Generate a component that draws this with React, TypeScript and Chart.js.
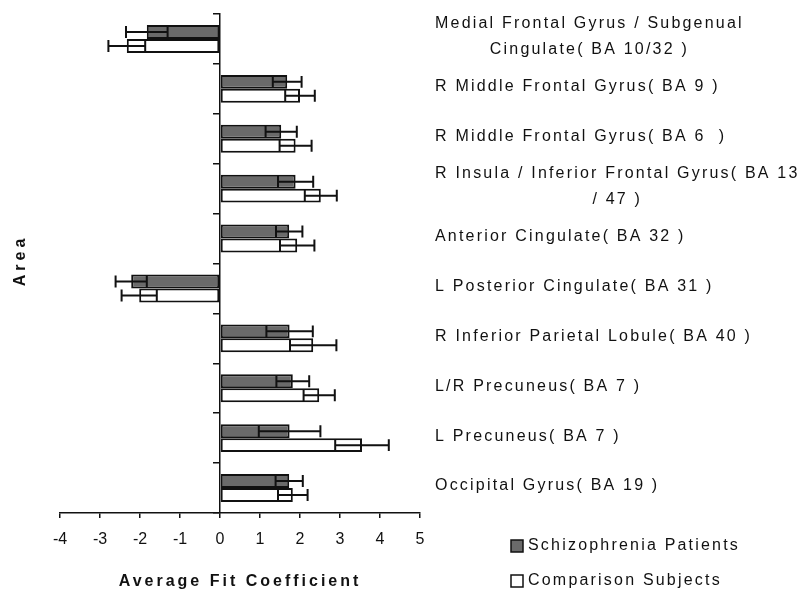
import React, { useEffect, useRef } from "react";
import { Chart, registerables } from "chart.js";

Chart.register(...registerables);

// ---------- data ----------
const areas: string[][] = [
  ["Medial Frontal Gyrus / Subgenual", "Cingulate( BA 10/32 )"],
  ["R Middle Frontal Gyrus( BA 9 )"],
  ["R Middle Frontal Gyrus( BA 6  )"],
  ["R Insula / Inferior Frontal Gyrus( BA 13", "/ 47 )"],
  ["Anterior Cingulate( BA 32 )"],
  ["L Posterior Cingulate( BA 31 )"],
  ["R Inferior Parietal Lobule( BA 40 )"],
  ["L/R Precuneus( BA 7 )"],
  ["L Precuneus( BA 7 )"],
  ["Occipital Gyrus( BA 19 )"],
];
const schizMeans = [-1.83, 1.68, 1.53, 1.89, 1.73, -2.22, 1.74, 1.82, 1.74, 1.73];
const schizErrors = [0.52, 0.36, 0.39, 0.44, 0.33, 0.39, 0.58, 0.41, 0.77, 0.34];
const compMeans = [-2.33, 2.0, 1.89, 2.52, 1.93, -2.02, 2.33, 2.48, 3.55, 1.82];
const compErrors = [0.46, 0.37, 0.4, 0.4, 0.43, 0.44, 0.58, 0.39, 0.67, 0.37];
const seriesNames = ["Schizophrenia Patients", "Comparison Subjects"];
const xMin = -4;
const xMax = 5;
const xTitle = "Average Fit Coefficient";
const yTitle = "Area";

const FONT = '"Liberation Sans", Arial, Helvetica, sans-serif';
const INK = "#111111";
const DARK = "#6a6a6a";

const errorBarPlugin = {
  id: "errorBars",
  afterDatasetsDraw(chart: any) {
    const ctx = chart.ctx;
    const xs = chart.scales.x;
    chart.data.datasets.forEach((ds: any, di: number) => {
      const meta = chart.getDatasetMeta(di);
      meta.data.forEach((bar: any, i: number) => {
        const v = ds.data[i];
        const e = ds.errors[i];
        const x1 = xs.getPixelForValue(v - e);
        const x2 = xs.getPixelForValue(v + e);
        const y = bar.y;
        const cap = bar.height / 2 - 1;
        ctx.save();
        ctx.strokeStyle = INK;
        ctx.lineWidth = 2;
        ctx.beginPath();
        ctx.moveTo(x1, y);
        ctx.lineTo(x2, y);
        ctx.moveTo(x1, y - cap);
        ctx.lineTo(x1, y + cap);
        ctx.moveTo(x2, y - cap);
        ctx.lineTo(x2, y + cap);
        ctx.stroke();
        ctx.restore();
      });
    });
  },
};

const textPlugin = {
  id: "textDecor",
  afterDraw(chart: any) {
    const ctx = chart.ctx;
    const ys = chart.scales.y;
    const xs = chart.scales.x;
    const area = chart.chartArea;
    ctx.save();
    ctx.fillStyle = INK;
    // category labels on the right
    ctx.font = `16px ${FONT}`;
    (ctx as any).letterSpacing = "2.2px";
    ctx.textBaseline = "middle";
    const labelX = area.right + 15;
    const lineH = 26;
    areas.forEach((lines, i) => {
      const cy = ys.getPixelForValue(i) - 2;
      const y0 = cy - ((lines.length - 1) * lineH) / 2;
      if (lines.length === 1) {
        ctx.textAlign = "left";
        ctx.fillText(lines[0], labelX, y0);
      } else {
        const w0 = ctx.measureText(lines[0]).width;
        ctx.textAlign = "center";
        lines.forEach((ln, k) => {
          ctx.fillText(ln, labelX + w0 / 2, y0 + k * lineH);
        });
      }
    });

    // legend
    chart.data.datasets.forEach((ds: any, di: number) => {
      const ly = area.bottom + 33 + di * 35;
      const bx = area.right + 91;
      ctx.fillStyle = ds.backgroundColor;
      ctx.fillRect(bx, ly - 6, 12, 12);
      ctx.strokeStyle = INK;
      ctx.lineWidth = 1.5;
      ctx.strokeRect(bx, ly - 6, 12, 12);
      ctx.fillStyle = INK;
      ctx.textAlign = "left";
      ctx.fillText(ds.label, bx + 17, ly);
    });

    // axis titles
    ctx.font = `bold 16px ${FONT}`;
    (ctx as any).letterSpacing = "3px";
    ctx.textAlign = "center";
    ctx.fillText(xTitle, (xs.left + xs.right) / 2, area.bottom + 69);
    ctx.translate(21, (area.top + area.bottom) / 2 - 3);
    ctx.rotate(-Math.PI / 2);
    (ctx as any).letterSpacing = "4px";
    ctx.fillText(yTitle, 0, 0);
    ctx.restore();
  },
};

export default function App() {
  const ref = useRef<HTMLCanvasElement>(null);
  useEffect(() => {
    if (!ref.current) return;
    Chart.defaults.font.family = FONT;
    Chart.defaults.color = INK;
    const chart = new Chart(ref.current, {
      type: "bar",
      data: {
        labels: areas.map((a) => a.join(" ")),
        datasets: [
          {
            label: seriesNames[0],
            data: schizMeans,
            errors: schizErrors,
            backgroundColor: DARK,
            borderColor: INK,
            borderWidth: 2,
            borderSkipped: false,
          } as any,
          {
            label: seriesNames[1],
            data: compMeans,
            errors: compErrors,
            backgroundColor: "#ffffff",
            borderColor: INK,
            borderWidth: 2,
            borderSkipped: false,
          } as any,
        ],
      },
      options: {
        indexAxis: "y",
        responsive: false,
        animation: false,
        devicePixelRatio: 1,
        layout: { padding: { left: 60, right: 387, top: 14, bottom: 32 } },
        plugins: { legend: { display: false }, tooltip: { enabled: false } },
        datasets: { bar: { categoryPercentage: 0.56, barPercentage: 1 } },
        scales: {
          x: {
            type: "linear",
            min: xMin,
            max: xMax,
            ticks: { stepSize: 1, color: INK, font: { size: 16 }, padding: 12 },
            grid: { drawOnChartArea: false, drawTicks: true, tickLength: 5, color: INK, lineWidth: 1.5 },
            border: { color: INK, width: 1.5 },
            afterFit: (s: any) => {
              s.height = 50;
            },
          },
          y: {
            type: "category",
            position: { x: 0 } as any,
            ticks: { display: false },
            grid: { offset: true, drawOnChartArea: false, drawTicks: true, tickLength: 6, color: INK, lineWidth: 1.5 },
            border: { color: INK, width: 1.5 },
            afterFit: (s: any) => {
              s.width = 0;
            },
          },
        },
      } as any,
      plugins: [errorBarPlugin, textPlugin],
    });
    return () => chart.destroy();
  }, []);
  return (
    <div style={{ position: "absolute", left: 0, top: 0, width: 807, height: 595, background: "#fff" }}>
      <canvas ref={ref} width={807} height={595} style={{ width: 807, height: 595, display: "block" }} />
    </div>
  );
}
